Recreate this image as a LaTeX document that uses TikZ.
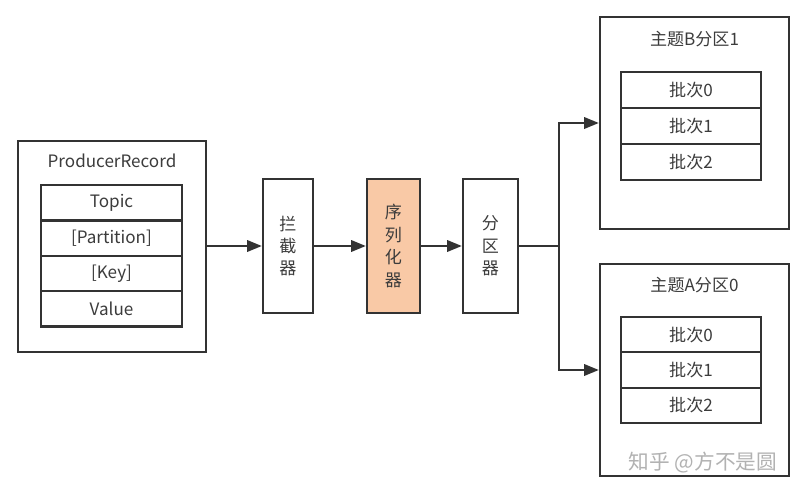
\documentclass[tikz,border=0pt]{standalone}
\usepackage{fontspec}
\setmainfont{Noto Sans CJK SC}
\usepackage{tikz}
\usetikzlibrary{arrows.meta, positioning, calc}
\usepackage{xcolor}
\definecolor{edge}{RGB}{51,51,51}
\definecolor{label}{RGB}{60,60,60}
\definecolor{serfill}{RGB}{249,201,166}
\tikzset{
  box/.style={draw=edge, line width=1.7pt, fill=white, text=label, inner sep=0pt},
  field/.style={box, minimum width=105.75pt, minimum height=26.5pt, font=\fontsize{12.8}{14}\selectfont},
  stage/.style={box, minimum width=39pt, minimum height=100.5pt, align=center,
    font=\fontsize{12.8}{16.8}\selectfont},
  arr/.style={draw=edge, line width=1.7pt, -{Triangle[length=11pt,width=8.5pt]}},
  title/.style={text=label, font=\fontsize{12.8}{14}\selectfont}
}

\begin{document}
\begin{tikzpicture}[x=0.75pt, y=-0.75pt]
  \useasboundingbox (0,0) rectangle (811,496);
  % producer record
  \node[box, minimum width=141pt, minimum height=158.25pt] (rec) at (112,246.5) {};
  \node[title] (rectitle) at (112,161) {ProducerRecord};
  \foreach \t [count=\i] in {Topic,{[Partition]},{[Key]},Value}
    \node[field] (f\i) at (111.5,{167.75+35.25*\i}) {\t};
  % pipeline
  \node[stage, minimum width=37.5pt] (icpt) at (288,246) {拦\\截\\器};
  \node[stage, fill=serfill, minimum width=39.75pt] (ser) at (393.5,246) {序\\列\\化\\器};
  \node[stage, minimum width=41.25pt] (part) at (490.5,246) {分\\区\\器};
  \draw[arr] (rec.east |- icpt.west) -- (icpt.west);
  \draw[arr] (icpt) -- (ser);
  \draw[arr] (ser) -- (part);
  % partitions
  \node[box, minimum width=141.75pt, minimum height=159pt] (pb) at (694.5,123) {};
  \node[title] (pbtitle) at (694.5,39) {主题B分区1};
  \foreach \i in {0,1,2}
    \node[field, minimum width=105pt, minimum height=27pt] (b\i) at (691,{90+36*\i}) {批次\i};
  \node[box, minimum width=141.75pt, minimum height=159pt] (pa) at (694.5,370) {};
  \node[title] (patitle) at (694.5,285) {主题A分区0};
  \foreach \i in {0,1,2}
    \node[field, minimum width=105pt, minimum height=26.5pt] (a\i) at (691,{334.7+35.33*\i}) {批次\i};
  % split
  \coordinate (split) at ($(part.east)+(40,0)$);
  \draw[draw=edge, line width=1.7pt] (part.east) -- (split);
  \draw[arr] (split) |- (pb.west);
  \draw[arr] (split) |- (pa.west);
  \node[text=black!30, font=\fontsize{15.5}{16}\selectfont] (mark) at (703,463) {知乎 @方不是圆};
\end{tikzpicture}
\end{document}
